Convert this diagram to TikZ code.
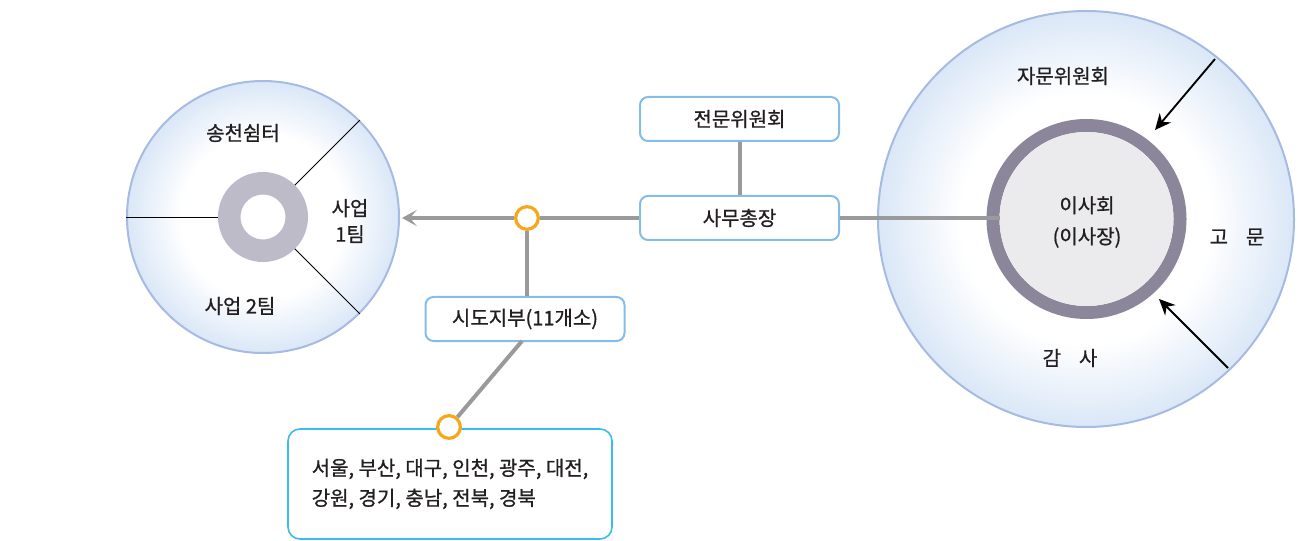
\documentclass[tikz,border=0pt]{standalone}
\usepackage{fontspec}
\setmainfont[FakeBold=0.8]{Noto Sans CJK KR}
\usetikzlibrary{arrows.meta}
\definecolor{lineg}{HTML}{9A9A9C}
\definecolor{orng}{HTML}{F5A81C}
\definecolor{boxb}{HTML}{86BCE8}
\definecolor{cyanb}{HTML}{3BBDEB}
\definecolor{circb}{HTML}{A7BBE2}
\definecolor{circf}{HTML}{DAE7F7}
\definecolor{ringl}{HTML}{BEBBC9}
\definecolor{ringr}{HTML}{8B8699}
\definecolor{innerf}{HTML}{EBEBEE}
\definecolor{txt}{HTML}{231F20}
\pgfdeclareradialshading{softblue}{\pgfpoint{0bp}{0bp}}{color(0bp)=(white); color(15bp)=(white); color(25bp)=(circf); color(50bp)=(circf)}
\tikzset{
  bigcirc/.style={circle, draw=circb, line width=1.5pt, inner sep=0pt, shading=softblue},
  boxst/.style={draw=boxb, line width=1.5pt, rounded corners=6pt, fill=white, minimum width=149.25pt, minimum height=33pt, inner sep=0pt, font=\fontsize{15}{18}\selectfont, text=txt},
  jn/.style={circle, draw=orng, line width=2.4pt, fill=white, minimum size=17pt, inner sep=0pt},
  conn/.style={draw=lineg, line width=3pt},
  lbl/.style={font=\fontsize{15}{19.5}\selectfont, text=txt, align=center, inner sep=0pt},
  blk/.style={draw=black, line width=1.4pt, -{Stealth[length=12pt,width=11pt]}},
  thinln/.style={draw=black, line width=0.7pt}
}
\begin{document}
\begin{tikzpicture}[x=0.75pt,y=-0.75pt]
\useasboundingbox (0,0) rectangle (1298,541);
% left circle
\node[bigcirc, minimum size=204pt] (L) at (263,217) {};
\node[circle, draw=ringl, line width=16.9pt, minimum size=50.6pt, inner sep=0pt] (Lring) at (263,217) {};
\draw[thinln] (Lring.45) -- (L.45);
\draw[thinln] (Lring.180) -- (L.180);
\draw[thinln] (Lring.-45) -- (L.-45);
\node[lbl] (t1) at (243,133) {송천쉼터};
\node[lbl] (t2) at (350,221) {사업\\1팀};
\node[lbl] (t3) at (240,306) {사업 2팀};
% right circle
\node[bigcirc, minimum size=312pt] (R) at (1086,219) {};
\node[circle, draw=ringr, line width=9.75pt, minimum size=140.25pt, inner sep=0pt] (Rring) at (1086.5,219) {};
\node[circle, fill=innerf, minimum size=130.5pt, inner sep=0pt, outer sep=0pt] (Rin) at (1086.5,219) {};
\node[lbl, font=\fontsize{15}{23.25}\selectfont] (t4) at (1087,222) {이사회\\(이사장)};
\node[lbl] (t5) at (1063,76) {자문위원회};
\node[lbl] (t6) at (1237,237) {고\hspace{0.9em}문};
\node[lbl] (t7) at (1070,358) {감\hspace{0.9em}사};
\coordinate (a1s) at (1215,59);
\coordinate (a1e) at (1155,130);
\coordinate (a2s) at (1228,368);
\coordinate (a2e) at (1159,299);
\draw[blk] (a1s) -- (a1e);
\draw[blk] (a2s) -- (a2e);
% middle boxes
\node[boxst] (jm) at (739.5,119) {전문위원회};
\node[boxst] (sm) at (739.5,218) {사무총장};
\node[boxst] (sd) at (525,319) {시도지부(11개소)};
\node[jn] (j1) at (527,218) {};
\coordinate (tip) at (402,218);
\draw[conn] (jm) -- (sm);
\draw[conn] (sm.west) -- (j1.east);
\draw[conn, -{Stealth[length=11pt,width=12pt,inset=5pt]}] (j1.west) -- (tip);
\draw[conn] (j1.south) -- (sd.north -| j1.south);
\draw[conn] (sm.east) -- (sm.east -| Rin.west);
% bottom box
\node[draw=cyanb, line width=1.2pt, rounded corners=9pt, minimum width=243pt, minimum height=82.5pt, inner sep=0pt, align=left, font=\fontsize{15}{22.5}\selectfont, text=txt] (bx) at (450,484) {서울, 부산, 대구, 인천, 광주, 대전,\\강원, 경기, 충남, 전북, 경북};
\coordinate (sdb) at (522,341);
\node[jn] (j2) at (449,427) {};
\draw[conn] (sdb) -- (j2);
\end{tikzpicture}
\end{document}
